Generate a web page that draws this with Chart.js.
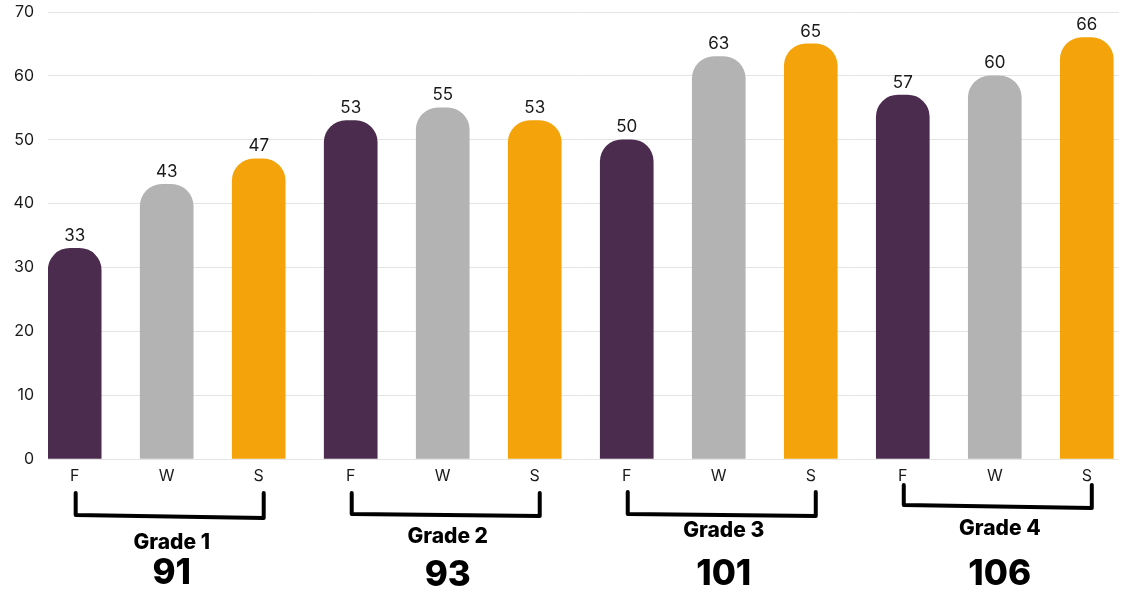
<!DOCTYPE html>
<html>
<head>
<meta charset="utf-8">
<script src="https://cdn.jsdelivr.net/npm/chart.js@4/dist/chart.umd.min.js"></script>
<style>
  html, body { margin: 0; padding: 0; background: #ffffff; }
  #wrap { width: 1121px; height: 595px; position: relative; }
</style>
</head>
<body>
<div id="wrap"><canvas id="chart"></canvas></div>
<script>
// Chart data
const grades = ['Grade 1', 'Grade 2', 'Grade 3', 'Grade 4'];
const gradeTotals = [91, 93, 101, 106];
const seasons = ['F', 'W', 'S'];
const fallValues = [33, 53, 50, 57];
const winterValues = [43, 55, 63, 60];
const springValues = [47, 53, 65, 66];
const yTicks = [0, 10, 20, 30, 40, 50, 60, 70];

// Palette
const Palette = {
  fall: '#4b2c4f',
  winter: '#b3b3b3',
  spring: '#f4a40a',
  text: '#1a1a1a',
  grid: '#e4e4e4'
};
const seasonColors = [Palette.fall, Palette.winter, Palette.spring];

// Flatten into one bar series: F, W, S for each grade
const points = [];
const barColors = [];
grades.forEach((g, gi) => {
  [fallValues, winterValues, springValues].forEach((series, si) => {
    points.push({ x: gi * 3 + si, y: series[gi] });
    barColors.push(seasonColors[si]);
  });
});

// Value labels above each bar
const valueLabels = {
  id: 'valueLabels',
  afterDatasetsDraw(chart) {
    const ctx = chart.ctx;
    const meta = chart.getDatasetMeta(0);
    ctx.save();
    ctx.font = '17px Inter';
    ctx.fillStyle = Palette.text;
    ctx.textAlign = 'center';
    ctx.textBaseline = 'bottom';
    meta.data.forEach((bar, i) => {
      ctx.fillText(String(points[i].y), bar.x, bar.y - 4);
    });
    ctx.restore();
  }
};

// Grade brackets, names and totals under the axis
const gradeBrackets = {
  id: 'gradeBrackets',
  afterDraw(chart) {
    const ctx = chart.ctx;
    const xs = chart.scales.x;
    // hand-drawn look: small per-group vertical shifts
    const layout = [
      { top: 493, bl: 515, br: 518, name: 543, total: 573 },
      { top: 493, bl: 514, br: 516, name: 537, total: 575 },
      { top: 492, bl: 514, br: 516, name: 531, total: 574 },
      { top: 485, bl: 505, br: 508, name: 529, total: 574 }
    ];
    ctx.save();
    grades.forEach((g, gi) => {
      const L = layout[gi];
      const x1 = xs.getPixelForValue(gi * 3) + 1;
      const x2 = xs.getPixelForValue(gi * 3 + 2) + 5;
      const mid = (x1 + x2) / 2 + 2;

      ctx.strokeStyle = '#000000';
      ctx.lineWidth = 4;
      ctx.lineCap = 'round';
      ctx.lineJoin = 'round';
      ctx.beginPath();
      ctx.moveTo(x1, L.top);
      ctx.lineTo(x1, L.bl);
      ctx.lineTo(x2, L.br);
      ctx.lineTo(x2, L.top);
      ctx.stroke();

      ctx.fillStyle = '#000000';
      ctx.textAlign = 'center';
      ctx.textBaseline = 'middle';
      ctx.font = '800 21px Inter';
      ctx.fillText(g, mid, L.name);
      ctx.font = '800 35px Inter';
      ctx.fillText(String(gradeTotals[gi]), mid, L.total);
    });
    ctx.restore();
  }
};

const ctx = document.getElementById('chart');
new Chart(ctx, {
  type: 'bar',
  data: {
    datasets: [{
      data: points,
      backgroundColor: barColors,
      borderWidth: 0,
      borderSkipped: 'bottom',
      borderRadius: { topLeft: 22, topRight: 22, bottomLeft: 0, bottomRight: 0 },
      barThickness: 53
    }]
  },
  options: {
    responsive: true,
    maintainAspectRatio: false,
    animation: false,
    layout: { padding: { top: 12, right: 2, bottom: 0, left: 0 } },
    plugins: {
      legend: { display: false },
      tooltip: { enabled: false }
    },
    scales: {
      x: {
        type: 'linear',
        offset: false,
        min: -0.29,
        max: 11.35,
        grid: { display: false, drawTicks: false },
        border: { display: false },
        ticks: {
          stepSize: 1,
          includeBounds: false,
          autoSkip: false,
          maxRotation: 0,
          padding: 8,
          color: Palette.text,
          font: { family: 'Inter', size: 16 },
          callback: (v) => Number.isInteger(v) ? seasons[v % 3] : ''
        },
        afterFit(scale) { scale.height = 136; }
      },
      y: {
        min: 0,
        max: 70,
        afterBuildTicks(scale) { scale.ticks = yTicks.map(v => ({ value: v })); },
        grid: { color: Palette.grid, lineWidth: 1, drawTicks: false },
        border: { display: false },
        ticks: {
          padding: 14,
          color: Palette.text,
          font: { family: 'Inter', size: 16 }
        },
        afterFit(scale) {
          scale.width = 48;
          scale.paddingTop = 0;
          scale.paddingBottom = 0;
        }
      }
    }
  },
  plugins: [valueLabels, gradeBrackets]
});
</script>
</body>
</html>
